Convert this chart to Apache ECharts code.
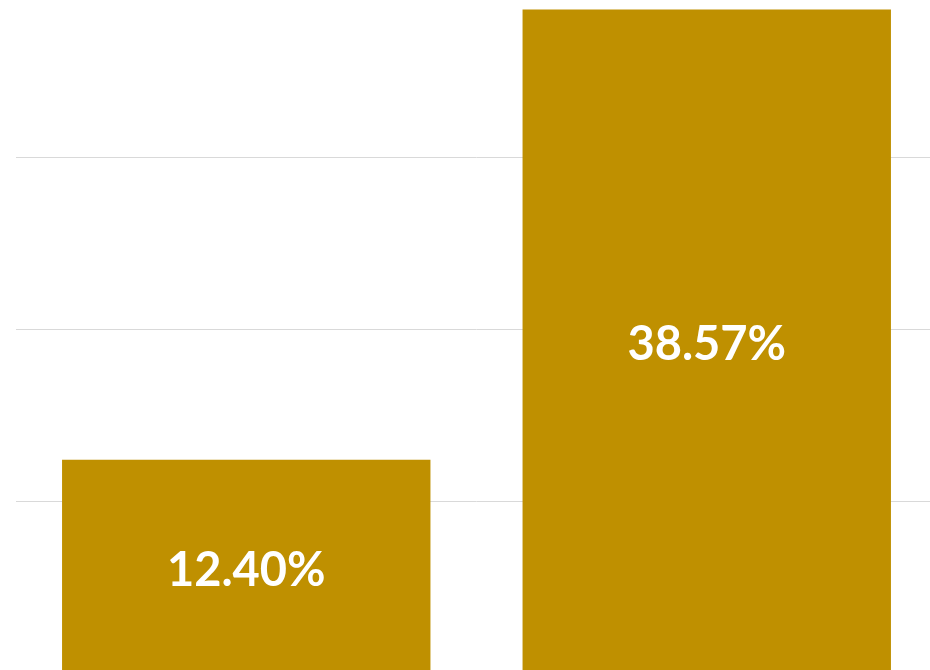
<!DOCTYPE html>
<html>
<head>
<meta charset="utf-8">
<style>
html,body{margin:0;padding:0;background:#fff;overflow:hidden;width:930px;height:670px;position:relative;}
#chart{width:950px;height:720px;position:absolute;left:0;top:-30px;}
</style>
<script src="https://cdn.jsdelivr.net/npm/echarts@6/dist/echarts.min.js"></script>
</head>
<body>
<div id="chart"></div>
<script>
var categories = ['A', 'B'];
var values = [12.40, 38.57];
var yTicks = [0, 10, 20, 30, 40];

var chart = echarts.init(document.getElementById('chart'), null, {renderer: 'canvas'});
chart.setOption({
  animation: false,
  backgroundColor: '#ffffff',
  grid: {left: 16, right: 13, top: 15, bottom: 17, containLabel: false},
  xAxis: {
    type: 'category',
    data: categories,
    axisLine: {show: false},
    axisTick: {show: false},
    axisLabel: {show: false}
  },
  yAxis: {
    type: 'value',
    min: yTicks[0],
    max: yTicks[yTicks.length - 1],
    interval: 10,
    axisLine: {show: false},
    axisTick: {show: false},
    axisLabel: {show: false},
    splitLine: {lineStyle: {color: '#D9D9D9', width: 1}}
  },
  series: [{
    type: 'bar',
    data: values,
    barWidth: '80%',
    itemStyle: {color: '#BF9000'},
    label: {
      show: true,
      position: 'inside',
      offset: [0, 4],
      color: '#ffffff',
      fontFamily: 'Lato',
      fontWeight: 'bold',
      fontSize: 47,
      formatter: function (p) { return p.value.toFixed(2) + '%'; }
    }
  }]
});
</script>
</body>
</html>
